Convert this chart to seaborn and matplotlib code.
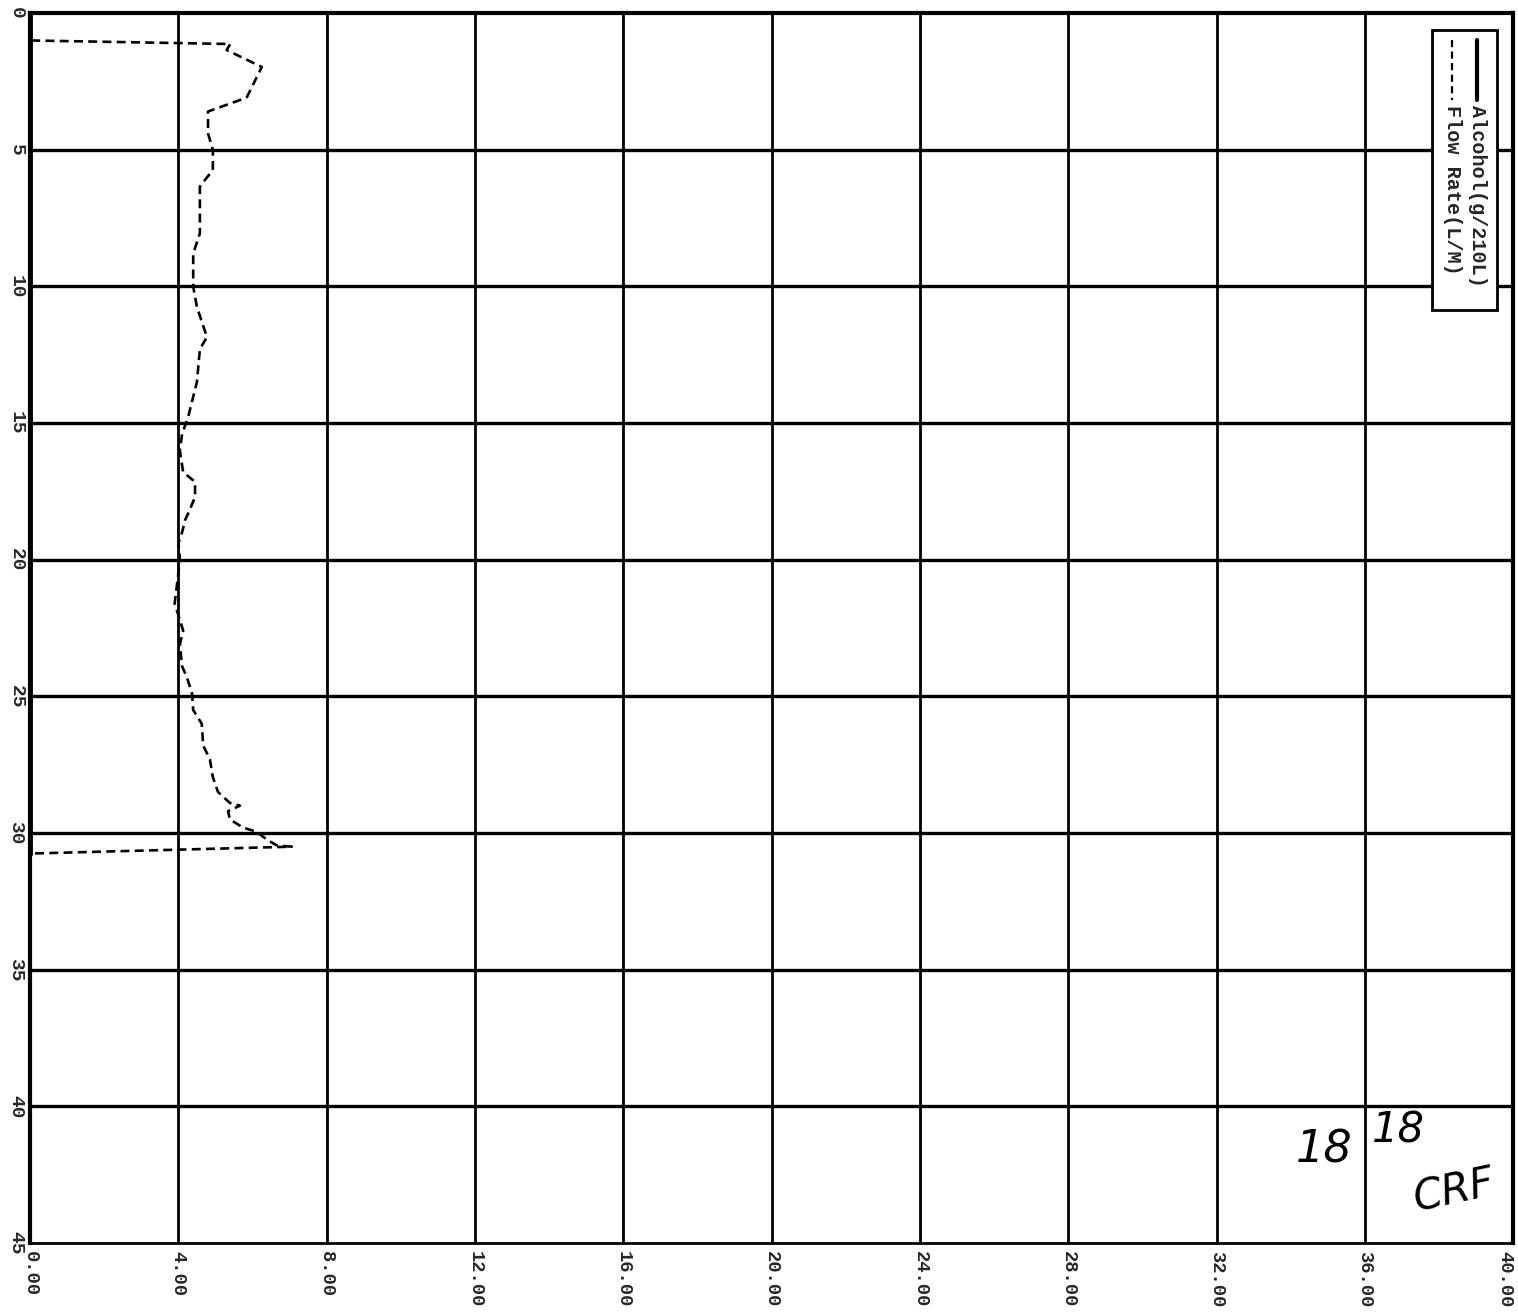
import numpy as np
import pandas as pd
import matplotlib
matplotlib.use("Agg")
import matplotlib.pyplot as plt
from matplotlib.lines import Line2D
from matplotlib.patches import Rectangle
import seaborn as sns

# ----------------------------------------------------------------------------
# Data (time in s down the page)
# ----------------------------------------------------------------------------
flow_time = [0.0, 1.0, 1.13, 1.35, 1.97, 3.07, 3.18, 3.6, 4.4, 5.0, 5.74, 6.1,
             6.35, 8.06, 8.8, 10.0, 10.75, 11.85, 12.3, 13.5, 14.2, 14.8, 15.4,
             16.0, 16.8, 17.15, 17.7, 18.2, 18.55, 19.0, 19.4, 19.9, 20.5, 21.6,
             22.2, 22.6, 23.1, 23.9, 24.3, 24.9, 25.5, 26.0, 26.8, 27.3, 27.95,
             28.5, 28.9, 29.0, 29.2, 29.5, 29.8, 29.95, 30.25, 30.45, 30.5,
             30.75, 45.0]
flow_rate = [0.0, 0.0, 5.4, 5.3, 6.25, 5.85, 5.66, 4.8, 4.8, 4.93, 4.93, 4.72,
             4.58, 4.58, 4.4, 4.4, 4.5, 4.77, 4.58, 4.5, 4.37, 4.26, 4.1,
             4.04, 4.13, 4.45, 4.45, 4.3, 4.18, 4.1, 4.0, 4.04, 4.0, 3.9,
             4.04, 4.13, 4.04, 4.1, 4.23, 4.37, 4.4, 4.63, 4.67, 4.85, 4.93,
             5.07, 5.39, 5.66, 5.34, 5.39, 5.74, 6.1, 6.4, 6.65, 7.06,
             0.0, 0.0]
alcohol_time = [0.0, 30.75]
alcohol = [0.0, 0.0]

x_ticks = [0, 4, 8, 12, 16, 20, 24, 28, 32, 36, 40]
x_labels = ["0.00", "4.00", "8.00", "12.00", "16.00", "20.00", "24.00",
            "28.00", "32.00", "36.00", "40.00"]
y_ticks = [0, 5, 10, 15, 20, 25, 30, 35, 40, 45]
y_labels = ["0", "5", "10", "15", "20", "25", "30", "35", "40", "45"]
legend_labels = ["Alcohol(g/210L)", "Flow Rate(L/M)"]

sns.set_style("white")
plt.rcParams["font.family"] = ["Liberation Mono", "DejaVu Sans"]

fig = plt.figure(figsize=(15.18, 13.12), dpi=100)
ax = fig.add_axes([0.0198, 0.0526, 0.977, 0.9374])

flow_df = pd.DataFrame({"time": flow_time, "flow": flow_rate})
alc_df = pd.DataFrame({"time": alcohol_time, "alcohol": alcohol})

# grid
for v in x_ticks[1:-1]:
    ax.axvline(v, color="black", lw=2.0, zorder=1)
for v in y_ticks[1:-1]:
    ax.axhline(v, color="black", lw=2.4, zorder=1)

sns.lineplot(data=alc_df, x="alcohol", y="time", sort=False, estimator=None,
             color="black", lw=3.5, ax=ax, clip_on=False, zorder=3)
sns.lineplot(data=flow_df, x="flow", y="time", sort=False, estimator=None,
             color="black", lw=1.9, dashes=False, ax=ax, zorder=3)
ax.lines[-1].set_dashes((3.4, 2.0))

ax.set_xlim(0, 40)
ax.set_ylim(45, 0)
ax.set_xticks(x_ticks)
ax.set_xticklabels(x_labels, rotation=-90, fontsize=13.5, fontweight="bold",
                   va="top", ha="center")
ax.get_xticklabels()[-1].set_horizontalalignment("right")
ax.set_yticks(y_ticks)
ax.set_yticklabels(y_labels, rotation=-90, fontsize=14, fontweight="bold",
                   va="center", ha="right")
ax.tick_params(axis="x", length=0, pad=6)
ax.tick_params(axis="y", length=0, pad=4)
ax.set_xlabel("")
ax.set_ylabel("")
for side, w in [("left", 3.0), ("top", 3.0), ("right", 3.0), ("bottom", 2.0)]:
    ax.spines[side].set_visible(True)
    ax.spines[side].set_color("black")
    ax.spines[side].set_linewidth(w)

# rotated legend box (top right)
tr = ax.transAxes
ax.add_patch(Rectangle((0.9454, 0.7585), 0.0438, 0.2275, transform=tr,
                       facecolor="white", edgecolor="black", lw=2.0, zorder=5))
ax.add_line(Line2D([0.9757, 0.9757], [0.978, 0.929], transform=tr,
                   color="black", lw=3.0, zorder=6))
ax.add_line(Line2D([0.9589, 0.9589], [0.978, 0.929], transform=tr,
                   color="black", lw=1.6, dashes=(3.2, 2.0), zorder=6))
ax.text(0.9757, 0.925, legend_labels[0], transform=tr, rotation=-90,
        ha="center", va="top", fontsize=14.5, fontweight="bold", zorder=6)
ax.text(0.9589, 0.925, legend_labels[1], transform=tr, rotation=-90,
        ha="center", va="top", fontsize=14.5, fontweight="bold", zorder=6)

# handwritten initials
hand = dict(family="DejaVu Sans", style="italic", fontweight="light",
            color="black", zorder=6)
ax.text(34.9, 41.6, "18", fontsize=32, ha="center", va="center", **hand)
ax.text(36.9, 40.9, "18", fontsize=30, ha="center", va="center", **hand)
ax.text(38.4, 43.1, "CRF", fontsize=30, ha="center", va="center",
        rotation=12, **hand)

fig.savefig("out.png", dpi=100)
